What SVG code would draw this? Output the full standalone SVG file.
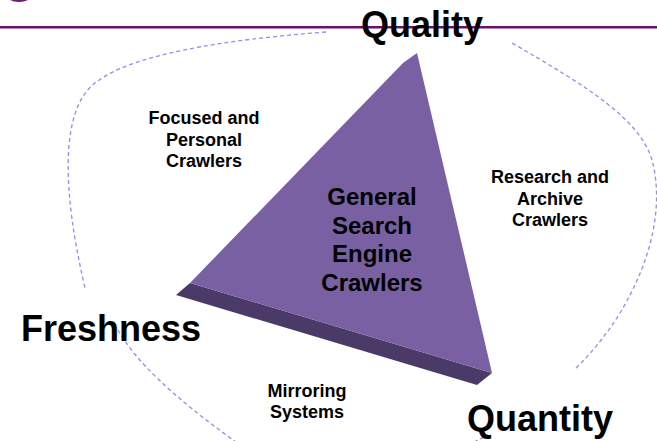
<svg xmlns="http://www.w3.org/2000/svg" width="657" height="441" viewBox="0 0 657 441">
<style>
.bg{fill:#ffffff}
.dash{fill:none;stroke:#9c8ae4;stroke-width:1.3;stroke-dasharray:4 3}
.t{font-family:"Liberation Sans",Arial,sans-serif;font-weight:bold;fill:#000;text-anchor:middle}
.big{font-size:36px}
.mid{font-size:24px}
.small{font-size:18px}
.face{fill:#7860a2}
.bevel{fill:#4b3a68}
</style>
<rect class="bg" x="0" y="0" width="657" height="441"/>
<ellipse cx="19" cy="-8" rx="15" ry="10" fill="#6b1e6b"/>
<line x1="0" y1="27.3" x2="657" y2="27.3" stroke="#6d0f6d" stroke-width="2.6"/>
<g id="connectors">
<path class="dash" d="M326,32 C220,40 130,55 95,83 C60,110 62,190 85,288"/>
<path class="dash" d="M512,43 C590,88 640,120 652,160 C664,205 652,260 620,313 Q600,345 575,369"/>
<path class="dash" d="M118,330 C135,360 170,395 240,445"/>
<path class="dash" d="M474,442 L488,435"/>
</g>
<g id="triangle">
<polygon class="bevel" points="176,295 190,283 492,373 477,385"/>
<polygon class="face" points="190,283 403,63 417,53 492,373"/>
<text class="t mid" x="372" y="205">General</text>
<text class="t mid" x="372" y="234">Search</text>
<text class="t mid" x="372" y="262">Engine</text>
<text class="t mid" x="372" y="291">Crawlers</text>
</g>
<g id="quality"><text class="t big" x="422" y="37">Quality</text></g>
<g id="freshness"><text class="t big" x="111" y="341">Freshness</text></g>
<g id="quantity"><text class="t big" x="540" y="431">Quantity</text></g>
<g id="focused">
<text class="t small" x="204" y="124">Focused and</text>
<text class="t small" x="204" y="146">Personal</text>
<text class="t small" x="204" y="167">Crawlers</text>
</g>
<g id="research">
<text class="t small" x="550" y="183">Research and</text>
<text class="t small" x="550" y="205">Archive</text>
<text class="t small" x="550" y="226">Crawlers</text>
</g>
<g id="mirroring">
<text class="t small" x="307" y="397">Mirroring</text>
<text class="t small" x="307" y="418">Systems</text>
</g>
</svg>
